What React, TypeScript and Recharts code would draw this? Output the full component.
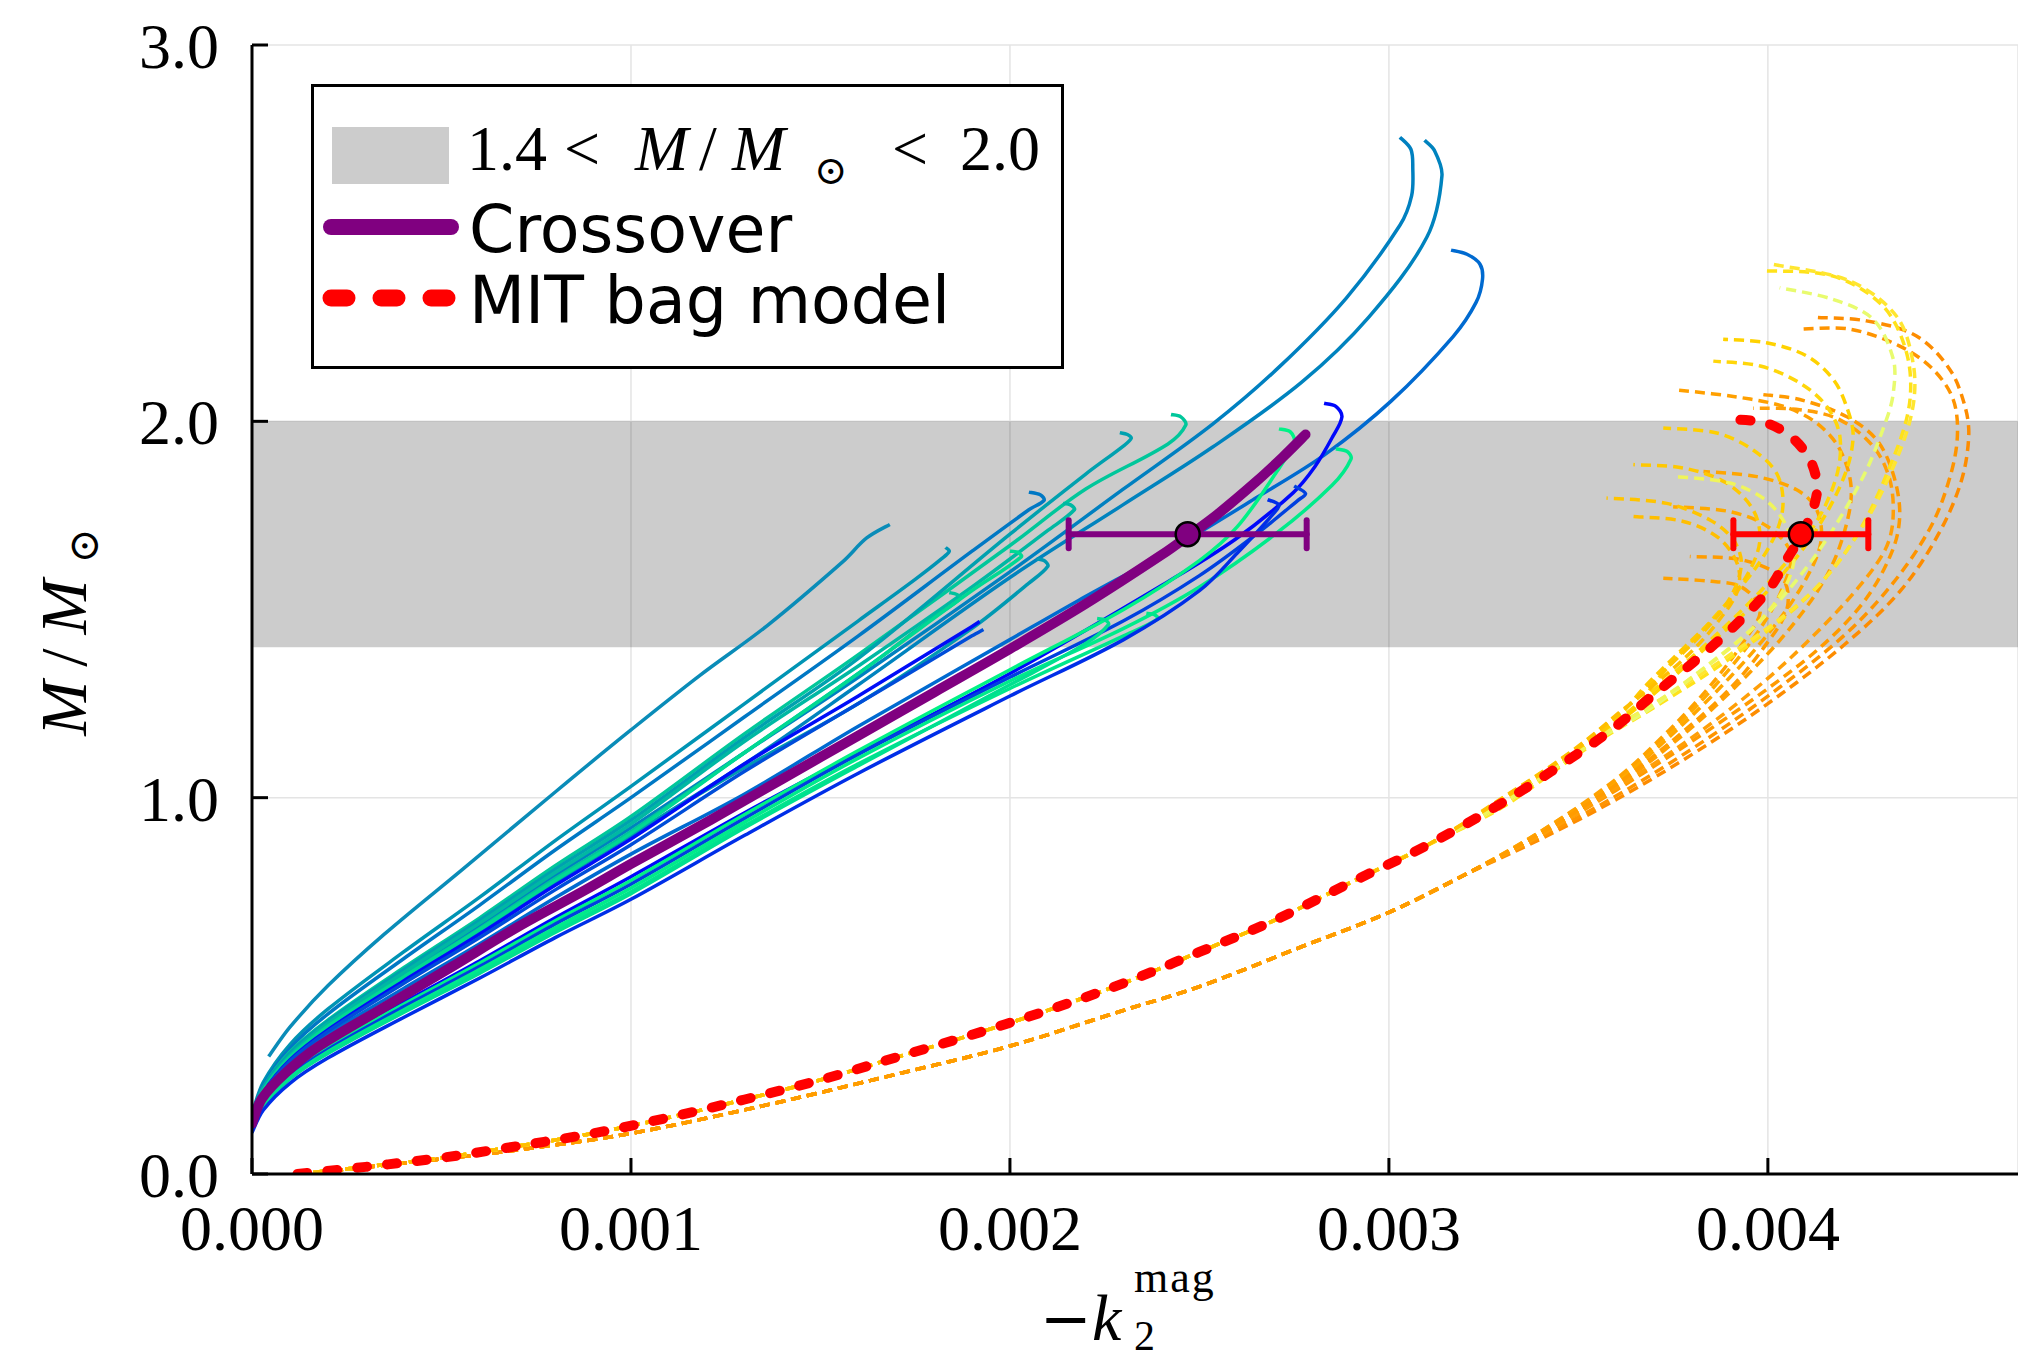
import React from "react";
import {
  ComposedChart,
  Line,
  Scatter,
  ErrorBar,
  XAxis,
  YAxis,
  CartesianGrid,
  ReferenceArea,
} from "recharts";

type Pt = [number, number];

// x is -k2^mag in units of 1e-3, y is M / M_sun
const xTicks = [0, 1, 2, 3, 4];
const yTicks = [0, 1, 2, 3];
const bandLow = 1.4;
const bandHigh = 2.0;

// x stations used for the low-mass part of the crossover family
const lowX = [0, 0.03, 0.1, 0.2, 0.4, 0.6, 0.8, 1.0];

const crossover: Pt[] = [
  [0, 0.134], [0.026, 0.2], [0.088, 0.268], [0.176, 0.339], [0.352, 0.445],
  [0.528, 0.551], [0.704, 0.658], [0.88, 0.755], [1.0, 0.824], [1.2, 0.935],
  [1.4, 1.05], [1.6, 1.165], [1.8, 1.28], [2.0, 1.395], [2.2, 1.515],
  [2.4, 1.645], [2.47, 1.695], [2.55, 1.755], [2.65, 1.84], [2.72, 1.905], [2.78, 1.965],
];

const mitBag: Pt[] = [
  [0.12, 0], [0.3, 0.019], [0.5, 0.043], [0.7, 0.074], [0.9, 0.108], [1.1, 0.15],
  [1.3, 0.198], [1.5, 0.25], [1.7, 0.31], [1.9, 0.37], [2.1, 0.435], [2.3, 0.507],
  [2.5, 0.59], [2.7, 0.675], [2.9, 0.775], [3.1, 0.873], [3.3, 0.987], [3.5, 1.118],
  [3.6, 1.19], [3.7, 1.275], [3.8, 1.357], [3.9, 1.445], [4.0, 1.55], [4.05, 1.633],
  [4.09, 1.7], [4.12, 1.77], [4.13, 1.83], [4.11, 1.9], [4.06, 1.96], [3.99, 1.997], [3.89, 2.005],
];

// measured points with horizontal error bars
const crossoverStar = [{ x: 2.469, y: 1.7, err: 0.314 }];
const mitStar = [{ x: 4.087, y: 1.7, err: 0.178 }];

// ---- crossover family (solid, winter colours) ----
const w1: Pt[] = [
  [0.044, 0.312], [0.1, 0.39], [0.2, 0.5], [0.35, 0.638], [0.55, 0.805], [0.83, 1.04],
  [1.0, 1.18], [1.182, 1.325], [1.358, 1.456], [1.56, 1.628], [1.622, 1.69], [1.683, 1.726],
];
const waLow = [0.16, 0.244, 0.344, 0.438, 0.59, 0.735, 0.886, 1.03];
const waTail: Pt[] = [[1.3, 1.25], [1.6, 1.47], [1.75, 1.58], [1.82, 1.635], [1.84, 1.655], [1.83, 1.665]];
const wbLow = [0.155, 0.236, 0.334, 0.425, 0.572, 0.714, 0.861, 1.0];
const wbTail: Pt[] = [[1.3, 1.215], [1.6, 1.43], [1.9, 1.655], [2.05, 1.765], [2.09, 1.79], [2.08, 1.805], [2.05, 1.812]];
const wcLow = [0.15, 0.224, 0.313, 0.396, 0.53, 0.659, 0.793, 0.92];
const wcTail: Pt[] = [
  [1.3, 1.12], [1.6, 1.32], [2.0, 1.6], [2.298, 1.819], [2.534, 1.992], [2.71, 2.144],
  [2.887, 2.327], [3.029, 2.521], [3.06, 2.6], [3.063, 2.673], [3.058, 2.723], [3.029, 2.755],
];
const wdLow = [0.15, 0.222, 0.309, 0.39, 0.521, 0.646, 0.776, 0.9];
const wdTail: Pt[] = [
  [1.3, 1.09], [1.6, 1.3], [2.0, 1.585], [2.298, 1.778], [2.534, 1.931], [2.77, 2.104],
  [2.947, 2.277], [3.1, 2.489], [3.14, 2.653], [3.12, 2.72], [3.094, 2.747],
];
const weLow = [0.145, 0.213, 0.294, 0.371, 0.493, 0.611, 0.734, 0.85];
const weTail: Pt[] = [
  [1.3, 1.01], [1.6, 1.19], [2.0, 1.42], [2.181, 1.524], [2.417, 1.655], [2.652, 1.798],
  [2.829, 1.91], [3.005, 2.053], [3.17, 2.226], [3.23, 2.316], [3.247, 2.378], [3.24, 2.418],
  [3.206, 2.444], [3.164, 2.455],
];
const wfLow = [0.155, 0.231, 0.324, 0.409, 0.548, 0.68, 0.819, 0.95];
const wfTail: Pt[] = [[1.3, 1.17], [1.6, 1.38], [2.0, 1.67], [2.2, 1.82], [2.417, 1.94], [2.464, 1.99], [2.451, 2.012], [2.425, 2.018]];
const wgLow = [0.155, 0.23, 0.321, 0.406, 0.543, 0.674, 0.81, 0.94];
const wgTail: Pt[] = [[1.3, 1.16], [1.6, 1.37], [2.0, 1.7], [2.2, 1.86], [2.3, 1.935], [2.32, 1.955], [2.31, 1.965], [2.29, 1.97]];
const whLow = [0.15, 0.225, 0.315, 0.4, 0.535, 0.666, 0.801, 0.93];
const whTail: Pt[] = [[1.3, 1.15], [1.6, 1.35], [1.9, 1.56], [2.1, 1.71], [2.17, 1.765], [2.16, 1.778], [2.14, 1.782]];
const wiLow = [0.15, 0.222, 0.309, 0.39, 0.521, 0.646, 0.776, 0.9];
const wiTail: Pt[] = [[1.3, 1.08], [1.6, 1.25], [1.9, 1.45], [2.05, 1.57], [2.1, 1.615], [2.09, 1.63], [2.07, 1.635]];
const wjLow = [0.15, 0.223, 0.311, 0.393, 0.525, 0.652, 0.785, 0.91];
const wjTail: Pt[] = [[1.3, 1.12], [1.6, 1.33], [1.8, 1.48], [1.87, 1.53], [1.86, 1.54], [1.84, 1.545]];
const wkLow = [0.15, 0.222, 0.31, 0.392, 0.523, 0.649, 0.78, 0.905];
const wkTail: Pt[] = [[1.3, 1.12], [1.6, 1.33], [1.9, 1.55], [2.03, 1.64], [2.02, 1.652], [2.0, 1.655]];
const wlLow = [0.145, 0.217, 0.303, 0.383, 0.513, 0.637, 0.767, 0.89];
const wlTail: Pt[] = [[1.3, 1.09], [1.6, 1.27], [1.9, 1.455], [1.92, 1.468]];
const wmLow = [0.145, 0.215, 0.3, 0.379, 0.506, 0.628, 0.755, 0.875];
const wmTail: Pt[] = [[1.3, 1.07], [1.6, 1.25], [1.9, 1.43], [1.93, 1.447]];
const wnLow = [0.13, 0.193, 0.27, 0.341, 0.456, 0.566, 0.681, 0.79];
const wnTail: Pt[] = [
  [1.3, 0.96], [1.6, 1.12], [2.0, 1.33], [2.417, 1.574], [2.594, 1.686], [2.747, 1.81],
  [2.805, 1.88], [2.852, 1.96], [2.876, 2.012], [2.86, 2.04], [2.829, 2.048],
];
const woLow = [0.13, 0.192, 0.268, 0.338, 0.451, 0.56, 0.673, 0.78];
const woTail: Pt[] = [[1.3, 0.955], [1.6, 1.125], [2.0, 1.34], [2.3, 1.5], [2.5, 1.63], [2.6, 1.72], [2.7, 1.86], [2.75, 1.945], [2.74, 1.972], [2.71, 1.98]];
const wpLow = [0.125, 0.187, 0.262, 0.331, 0.444, 0.551, 0.664, 0.77];
const wpTail: Pt[] = [[1.3, 0.945], [1.6, 1.115], [2.0, 1.32], [2.3, 1.47], [2.5, 1.59], [2.65, 1.7], [2.76, 1.79], [2.78, 1.808], [2.75, 1.828]];
const wqLow = [0.12, 0.181, 0.256, 0.325, 0.436, 0.543, 0.654, 0.76];
const wqTail: Pt[] = [[1.3, 0.935], [1.6, 1.105], [2.0, 1.31], [2.3, 1.45], [2.5, 1.56], [2.7, 1.7], [2.85, 1.83], [2.9, 1.9], [2.89, 1.92], [2.86, 1.927]];
const wrLow = [0.12, 0.18, 0.254, 0.322, 0.431, 0.536, 0.646, 0.75];
const wrTail: Pt[] = [[1.3, 0.925], [1.6, 1.09], [2.0, 1.29], [2.3, 1.43], [2.39, 1.475], [2.38, 1.487], [2.36, 1.49]];
const wsLow = [0.12, 0.18, 0.253, 0.32, 0.429, 0.533, 0.642, 0.745];
const wsTail: Pt[] = [[1.3, 0.92], [1.6, 1.085], [2.0, 1.3], [2.2, 1.41], [2.26, 1.46], [2.25, 1.473], [2.23, 1.476]];
const wtLow = [0.11, 0.17, 0.241, 0.308, 0.416, 0.52, 0.628, 0.73];
const wtTail: Pt[] = [[1.3, 0.9], [1.6, 1.065], [2.0, 1.27], [2.3, 1.42], [2.5, 1.55], [2.6, 1.65], [2.7, 1.76], [2.71, 1.778], [2.68, 1.792]];

// ---- bag model family (dashed, Wistia colours) ----
const upperBase: Pt[] = mitBag.slice(0, 16);
const lowerBase: Pt[] = [
  [0.13, 0], [0.3, 0.018], [0.5, 0.04], [0.7, 0.064], [1.0, 0.108], [1.36, 0.184],
  [1.7, 0.265], [2.0, 0.34], [2.3, 0.435], [2.5, 0.498], [2.77, 0.604], [3.0, 0.695],
  [3.2, 0.795],
];
const yaTail: Pt[] = [[3.3, 0.975], [3.52, 1.13], [3.7, 1.24], [3.9, 1.37], [4.1, 1.53], [4.23, 1.69], [4.33, 1.9], [4.374, 2.049], [4.366, 2.182], [4.304, 2.306], [4.172, 2.386], [3.988, 2.4]];
const ybTail: Pt[] = [[3.3, 0.978], [3.52, 1.14], [3.7, 1.25], [3.9, 1.38], [4.12, 1.55], [4.25, 1.72], [4.34, 1.9], [4.383, 2.04], [4.383, 2.156], [4.339, 2.28], [4.216, 2.373], [4.014, 2.417]];
const ycTail: Pt[] = [[3.3, 0.982], [3.51, 1.13], [3.68, 1.23], [3.8, 1.32], [3.98, 1.47], [4.13, 1.65], [4.25, 1.85], [4.313, 2.005], [4.331, 2.076], [4.331, 2.165], [4.278, 2.271], [4.172, 2.324], [4.031, 2.355]];
const ydTail: Pt[] = [[3.3, 0.985], [3.5, 1.12], [3.68, 1.26], [3.86, 1.42], [4.0, 1.55], [4.12, 1.7], [4.2, 1.85], [4.225, 1.96], [4.207, 2.041], [4.172, 2.112], [4.102, 2.174], [3.996, 2.209], [3.882, 2.218]];
const yeTail: Pt[] = [[3.3, 0.99], [3.5, 1.12], [3.68, 1.27], [3.85, 1.42], [4.0, 1.57], [4.12, 1.72], [4.18, 1.85], [4.19, 1.96], [4.155, 2.04], [4.084, 2.102], [3.98, 2.147], [3.856, 2.16]];
const yfTail: Pt[] = [[3.3, 0.99], [3.5, 1.125], [3.64, 1.23], [3.73, 1.34], [3.85, 1.47], [3.96, 1.6], [4.02, 1.7], [4.04, 1.782], [4.023, 1.862], [3.961, 1.924], [3.865, 1.969], [3.724, 1.982]];
const ygTail: Pt[] = [[3.3, 0.995], [3.5, 1.13], [3.6, 1.21], [3.68, 1.3], [3.78, 1.4], [3.88, 1.5], [3.95, 1.6], [3.979, 1.685], [3.961, 1.765], [3.891, 1.836], [3.777, 1.876], [3.645, 1.885]];
const yhTail: Pt[] = [[3.3, 0.985], [3.5, 1.12], [3.6, 1.19], [3.7, 1.25], [3.84, 1.35], [3.96, 1.45], [4.04, 1.55], [4.07, 1.64], [4.05, 1.72], [3.995, 1.79], [3.9, 1.836], [3.759, 1.853]];
const yiTail: Pt[] = [[3.3, 1.0], [3.45, 1.1], [3.58, 1.2], [3.65, 1.26], [3.74, 1.35], [3.83, 1.44], [3.9, 1.53], [3.93, 1.62], [3.909, 1.685], [3.847, 1.738], [3.733, 1.782], [3.574, 1.796]];
const yjTail: Pt[] = [[3.3, 0.998], [3.5, 1.135], [3.6, 1.22], [3.7, 1.3], [3.8, 1.39], [3.87, 1.47], [3.92, 1.55], [3.92, 1.62], [3.87, 1.69], [3.777, 1.734], [3.645, 1.747]];
const o1Tail: Pt[] = [[3.4, 0.89], [3.6, 0.995], [3.8, 1.115], [4.0, 1.25], [4.2, 1.405], [4.35, 1.55], [4.45, 1.7], [4.51, 1.84], [4.53, 1.96], [4.52, 2.04], [4.48, 2.138], [4.392, 2.227], [4.26, 2.267], [4.132, 2.276]];
const o2Tail: Pt[] = [[3.4, 0.895], [3.6, 1.005], [3.8, 1.13], [4.0, 1.27], [4.2, 1.43], [4.33, 1.57], [4.43, 1.72], [4.48, 1.85], [4.5, 1.96], [4.489, 2.058], [4.436, 2.138], [4.348, 2.2], [4.216, 2.245], [4.084, 2.245]];
const o3Tail: Pt[] = [[3.4, 0.905], [3.6, 1.03], [3.78, 1.17], [3.92, 1.3], [4.05, 1.44], [4.15, 1.58], [4.2, 1.7], [4.22, 1.82], [4.19, 1.925], [4.128, 1.996], [4.04, 2.04], [3.909, 2.066], [3.754, 2.084]];
const o4Tail: Pt[] = [[3.4, 0.9], [3.6, 1.02], [3.8, 1.15], [4.0, 1.29], [4.15, 1.41], [4.26, 1.53], [4.33, 1.66], [4.348, 1.756], [4.33, 1.862], [4.287, 1.951], [4.207, 2.013], [4.084, 2.058], [3.988, 2.071]];
const o5Tail: Pt[] = [[3.4, 0.9], [3.6, 1.025], [3.8, 1.16], [3.98, 1.3], [4.12, 1.43], [4.24, 1.56], [4.31, 1.66], [4.33, 1.738], [4.322, 1.844], [4.278, 1.933], [4.19, 2.004], [4.084, 2.031], [3.961, 2.035]];
const o6Tail: Pt[] = [[3.4, 0.905], [3.6, 1.04], [3.76, 1.18], [3.9, 1.32], [4.02, 1.46], [4.1, 1.58], [4.14, 1.68], [4.129, 1.765], [4.076, 1.818], [3.971, 1.853], [3.83, 1.867]];
const o7Tail: Pt[] = [[3.4, 0.91], [3.6, 1.045], [3.75, 1.18], [3.88, 1.32], [3.98, 1.45], [4.04, 1.56], [4.06, 1.65], [4.0, 1.72], [3.9, 1.76], [3.75, 1.773]];
const o8Tail: Pt[] = [[3.4, 0.91], [3.6, 1.05], [3.74, 1.18], [3.85, 1.3], [3.94, 1.42], [3.98, 1.5], [3.93, 1.56], [3.85, 1.575], [3.724, 1.583]];
const o9Tail: Pt[] = [[3.4, 0.905], [3.6, 1.035], [3.77, 1.17], [3.9, 1.29], [3.99, 1.4], [4.05, 1.5], [4.04, 1.58], [3.94, 1.63], [3.794, 1.641]];

const joinLow = (low: number[], tail: Pt[]): Pt[] => [
  ...low.map((y, i) => [lowX[i], y] as Pt),
  ...tail,
];

const winterCurves = [
  { id: "w1", color: "#0a8cb8", pts: w1 },
  { id: "wa", color: "#0094b4", pts: joinLow(waLow, waTail) },
  { id: "wb", color: "#0078c4", pts: joinLow(wbLow, wbTail) },
  { id: "wc", color: "#0080c0", pts: joinLow(wcLow, wcTail) },
  { id: "wd", color: "#0083be", pts: joinLow(wdLow, wdTail) },
  { id: "we", color: "#006ad0", pts: joinLow(weLow, weTail) },
  { id: "wf", color: "#00c79b", pts: joinLow(wfLow, wfTail) },
  { id: "wg", color: "#00a1af", pts: joinLow(wgLow, wgTail) },
  { id: "wh", color: "#00b8a3", pts: joinLow(whLow, whTail) },
  { id: "wi", color: "#0099b2", pts: joinLow(wiLow, wiTail) },
  { id: "wj", color: "#00c29d", pts: joinLow(wjLow, wjTail) },
  { id: "wk", color: "#00d993", pts: joinLow(wkLow, wkTail) },
  { id: "wl", color: "#000df8", pts: joinLow(wlLow, wlTail) },
  { id: "wm", color: "#004dd9", pts: joinLow(wmLow, wmTail) },
  { id: "wn", color: "#0008fb", pts: joinLow(wnLow, wnTail) },
  { id: "wo", color: "#00f286", pts: joinLow(woLow, woTail) },
  { id: "wp", color: "#0040df", pts: joinLow(wpLow, wpTail) },
  { id: "wq", color: "#00eb8a", pts: joinLow(wqLow, wqTail) },
  { id: "wr", color: "#00e68c", pts: joinLow(wrLow, wrTail) },
  { id: "ws", color: "#00e08f", pts: joinLow(wsLow, wsTail) },
  { id: "wt", color: "#002ee8", pts: joinLow(wtLow, wtTail) },
];

const wistiaCurves = [
  { id: "o1", color: "#fd8c00", pts: [...lowerBase, ...o1Tail] },
  { id: "o2", color: "#fe9400", pts: [...lowerBase, ...o2Tail] },
  { id: "o3", color: "#ffa000", pts: [...lowerBase, ...o3Tail] },
  { id: "o4", color: "#ff9a00", pts: [...lowerBase, ...o4Tail] },
  { id: "o5", color: "#ff9f08", pts: [...lowerBase, ...o5Tail] },
  { id: "o6", color: "#ffa600", pts: [...lowerBase, ...o6Tail] },
  { id: "o7", color: "#ffaa00", pts: [...lowerBase, ...o7Tail] },
  { id: "o8", color: "#ffa200", pts: [...lowerBase, ...o8Tail] },
  { id: "o9", color: "#ff9c00", pts: [...lowerBase, ...o9Tail] },
  { id: "ya", color: "#ffe21a", pts: [...upperBase, ...yaTail] },
  { id: "yb", color: "#ffe630", pts: [...upperBase, ...ybTail] },
  { id: "yc", color: "#e8fb6e", pts: [...upperBase, ...ycTail] },
  { id: "yd", color: "#ffd200", pts: [...upperBase, ...ydTail] },
  { id: "ye", color: "#ffd60a", pts: [...upperBase, ...yeTail] },
  { id: "yf", color: "#ffcf00", pts: [...upperBase, ...yfTail] },
  { id: "yg", color: "#ffc800", pts: [...upperBase, ...ygTail] },
  { id: "yh", color: "#f0f55a", pts: [...upperBase, ...yhTail] },
  { id: "yi", color: "#ffc400", pts: [...upperBase, ...yiTail] },
  { id: "yj", color: "#ffbe00", pts: [...upperBase, ...yjTail] },
];

const rows = (pts: Pt[]) => pts.map(([x, y]) => ({ x, y }));

// Catmull-Rom style curve with chord-scaled tangents, so the hooks don't overshoot
const smoothCurve = (context: any) => {
  let pts: number[][] = [];
  const dist = (a: number[], b: number[]) => Math.hypot(b[0] - a[0], b[1] - a[1]) || 1e-6;
  return {
    areaStart() {},
    areaEnd() {},
    lineStart() {
      pts = [];
    },
    point(x: number, y: number) {
      pts.push([+x, +y]);
    },
    lineEnd() {
      const n = pts.length;
      if (!n) return;
      context.moveTo(pts[0][0], pts[0][1]);
      for (let i = 0; i < n - 1; i++) {
        const p0 = pts[Math.max(0, i - 1)];
        const p1 = pts[i];
        const p2 = pts[i + 1];
        const p3 = pts[Math.min(n - 1, i + 2)];
        const d12 = dist(p1, p2);
        const d01 = i > 0 ? dist(p0, p1) : d12;
        const d23 = i + 2 < n ? dist(p2, p3) : d12;
        const s1 = d12 / (d01 + d12) / 3;
        const s2 = d12 / (d12 + d23) / 3;
        context.bezierCurveTo(
          p1[0] + (p2[0] - p0[0]) * s1,
          p1[1] + (p2[1] - p0[1]) * s1,
          p2[0] - (p3[0] - p1[0]) * s2,
          p2[1] - (p3[1] - p1[1]) * s2,
          p2[0],
          p2[1]
        );
      }
    },
  };
};

const serif = "'Liberation Serif', 'DejaVu Serif', serif";
const sans = "'DejaVu Sans', sans-serif";

const XTick = (props: any) => {
  const { x, y, payload } = props;
  return (
    <g>
      <line x1={x} y1={y} x2={x} y2={y - 16} stroke="#000" strokeWidth={3} />
      <text x={x} y={y + 76} textAnchor="middle" fontFamily={serif} fontSize={64} fill="#000">
        {(payload.value / 1000).toFixed(3)}
      </text>
    </g>
  );
};

const YTick = (props: any) => {
  const { x, y, payload } = props;
  return (
    <g>
      <line x1={x} y1={y} x2={x + 16} y2={y} stroke="#000" strokeWidth={3} />
      <text x={x - 33} y={y + 23} textAnchor="end" fontFamily={serif} fontSize={64} fill="#000">
        {payload.value.toFixed(1)}
      </text>
    </g>
  );
};

const XTitle = () => (
  <g fill="#000">
    <text x={1040} y={1340} fontSize={62} fontFamily="'DejaVu Serif', serif">−</text>
    <text x={1092} y={1340} fontSize={66} fontFamily={serif} fontStyle="italic">k</text>
    <text x={1134} y={1350} fontSize={42} fontFamily={serif}>2</text>
    <text x={1134} y={1292} fontSize={44} fontFamily={serif} letterSpacing={2}>mag</text>
  </g>
);

const YTitle = () => (
  <g transform="translate(86,632) rotate(-90)" fontFamily={serif} fill="#000">
    <text x={0} y={0} textAnchor="middle" fontSize={66}>
      <tspan fontStyle="italic">M</tspan>
      <tspan dx={14}>/</tspan>
      <tspan dx={14} fontStyle="italic">M</tspan>
      <tspan dx={16} dy={12} fontSize={42} fontFamily="'DejaVu Serif', serif">⊙</tspan>
    </text>
  </g>
);

const StarDot = (p: any) => (
  <circle cx={p.cx} cy={p.cy} r={12} fill={p.fill} stroke="#000" strokeWidth={2.5} />
);

const LegendBox = () => (
  <div
    style={{
      position: "absolute",
      left: 311,
      top: 84,
      width: 753,
      height: 285,
      boxSizing: "border-box",
      border: "3px solid #000",
      background: "#fff",
    }}
  >
    <svg width={747} height={279} style={{ position: "absolute", left: -3, top: -3, overflow: "visible" }}>
      <rect x={21} y={43} width={117} height={57} fill="#cccccc" />
      <text y={86} fontFamily={serif} fontSize={64} fill="#000">
        <tspan x={156}>1.4</tspan>
        <tspan x={253}>&lt;</tspan>
        <tspan x={324} fontStyle="italic">M</tspan>
        <tspan x={388}>/</tspan>
        <tspan x={421} fontStyle="italic">M</tspan>
        <tspan x={503} dy={14} fontSize={40} fontFamily="'DejaVu Serif', serif">⊙</tspan>
        <tspan x={581} dy={-14}>&lt;</tspan>
        <tspan x={649}>2.0</tspan>
      </text>
      <line x1={20} y1={143} x2={140} y2={143} stroke="#800080" strokeWidth={16} strokeLinecap="round" />
      <text x={158} y={168} fontFamily={sans} fontSize={65} fill="#000">Crossover</text>
      <line
        x1={20}
        y1={214}
        x2={137}
        y2={214}
        stroke="#ff0000"
        strokeWidth={17}
        strokeLinecap="round"
        strokeDasharray="16 34"
      />
      <text x={158} y={239} fontFamily={sans} fontSize={65} fill="#000">MIT bag model</text>
    </svg>
  </div>
);

export default function App() {
  return (
    <div style={{ position: "absolute", left: 0, top: 0, width: 2018, height: 1366, background: "#fff" }}>
      <ComposedChart width={2018} height={1366} margin={{ top: 45, right: 0, bottom: 0, left: 0 }}>
        <ReferenceArea y1={bandLow} y2={bandHigh} fill="#000" fillOpacity={0.2} stroke="none" />
        <CartesianGrid stroke="#e4e4e4" strokeWidth={1.5} />
        <XAxis
          type="number"
          dataKey="x"
          domain={[0, 4.66]}
          allowDataOverflow
          ticks={xTicks}
          interval={0}
          height={192}
          tickSize={0}
          tickMargin={0}
          tickLine={false}
          tick={<XTick />}
          axisLine={{ stroke: "#000", strokeWidth: 3 }}
          label={<XTitle />}
        />
        <YAxis
          type="number"
          dataKey="y"
          domain={[0, 3]}
          allowDataOverflow
          ticks={yTicks}
          interval={0}
          width={252}
          tickSize={0}
          tickMargin={0}
          tickLine={false}
          tick={<YTick />}
          axisLine={{ stroke: "#000", strokeWidth: 3 }}
          label={<YTitle />}
        />
        {wistiaCurves.map((c) => (
          <Line
            key={c.id}
            data={rows(c.pts)}
            dataKey="y"
            type={smoothCurve as any}
            stroke={c.color}
            strokeWidth={3.5}
            strokeDasharray="10 6"
            dot={false}
            activeDot={false}
            isAnimationActive={false}
          />
        ))}
        {winterCurves.map((c) => (
          <Line
            key={c.id}
            data={rows(c.pts)}
            dataKey="y"
            type={smoothCurve as any}
            stroke={c.color}
            strokeWidth={3.5}
            dot={false}
            activeDot={false}
            isAnimationActive={false}
          />
        ))}
        <Line
          data={rows(mitBag)}
          dataKey="y"
          type={smoothCurve as any}
          stroke="#ff0000"
          strokeWidth={10}
          strokeLinecap="round"
          strokeDasharray="10 20"
          dot={false}
          activeDot={false}
          isAnimationActive={false}
        />
        <Line
          data={rows(crossover)}
          dataKey="y"
          type={smoothCurve as any}
          stroke="#800080"
          strokeWidth={10}
          strokeLinecap="round"
          dot={false}
          activeDot={false}
          isAnimationActive={false}
        />
        <Scatter data={crossoverStar} dataKey="y" fill="#800080" shape={StarDot} isAnimationActive={false}>
          <ErrorBar dataKey="err" direction="x" width={14} stroke="#800080" strokeWidth={6} strokeLinecap="round" />
        </Scatter>
        <Scatter data={mitStar} dataKey="y" fill="#ff0000" shape={StarDot} isAnimationActive={false}>
          <ErrorBar dataKey="err" direction="x" width={14} stroke="#ff0000" strokeWidth={6} strokeLinecap="round" />
        </Scatter>
      </ComposedChart>
      <LegendBox />
    </div>
  );
}
